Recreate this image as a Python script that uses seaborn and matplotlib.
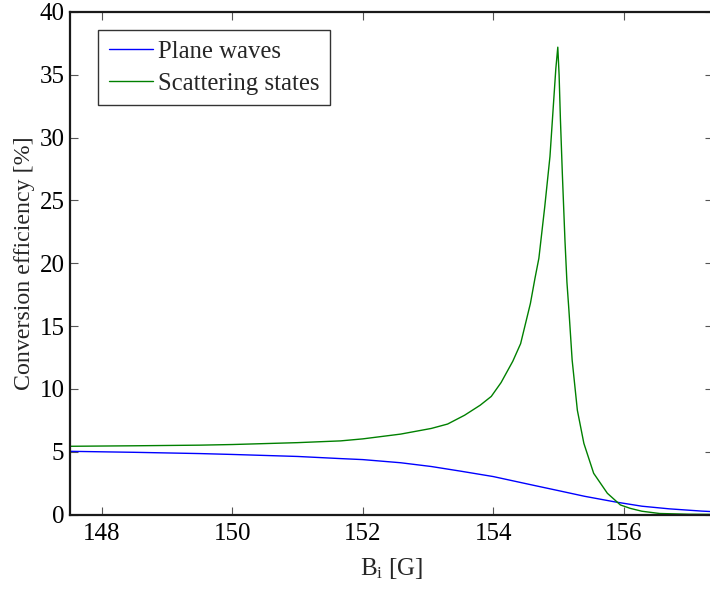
import numpy as np
import pandas as pd
import seaborn as sns
import matplotlib.pyplot as plt

# --- values ---
b_plane = [147.5, 148.5, 149.5, 150.0, 151.0, 151.66, 152.0, 152.58, 153.05, 153.5,
           154.0, 154.64, 155.0, 155.4, 155.87, 156.28, 156.7, 157.2, 157.4]
eff_plane = [5.03, 4.95, 4.85, 4.78, 4.62, 4.45, 4.37, 4.12, 3.82, 3.45,
             3.02, 2.3, 1.9, 1.45, 1.0, 0.66, 0.45, 0.27, 0.22]

b_scatt = [147.5, 148.5, 149.5, 150.0, 151.0, 151.66, 152.0, 152.58, 153.05, 153.3,
           153.56, 153.8, 153.97, 154.12, 154.3, 154.42, 154.57, 154.64, 154.70, 154.79,
           154.87, 154.92, 154.96, 154.99, 155.01, 155.03, 155.06, 155.10, 155.13, 155.16,
           155.21, 155.29, 155.39, 155.54, 155.75, 155.95, 156.10, 156.28, 156.55, 157.0, 157.4]
eff_scatt = [5.43, 5.47, 5.52, 5.57, 5.72, 5.86, 6.02, 6.4, 6.85, 7.2,
             7.9, 8.7, 9.4, 10.5, 12.2, 13.6, 16.8, 18.8, 20.4, 24.5,
             28.5, 32.4, 35.5, 37.2, 35.0, 31.5, 27.1, 21.8, 18.5, 16.3,
             12.3, 8.3, 5.66, 3.28, 1.69, 0.76, 0.49, 0.26, 0.08, 0.02, 0.01]

xticks = [148, 150, 152, 154, 156]
yticks = [0, 5, 10, 15, 20, 25, 30, 35, 40]

sns.set_style("ticks")
plt.rcParams['font.family'] = ['Liberation Serif', 'DejaVu Serif']
plt.rcParams['mathtext.fontset'] = 'custom'
plt.rcParams['mathtext.rm'] = 'Liberation Serif'
plt.rcParams['mathtext.it'] = 'Liberation Serif'

fig = plt.figure(figsize=(7.1, 5.92), dpi=100)
# right edge of the axes runs just past the picture, as in the reference
ax = fig.add_axes([70 / 710, 77.5 / 592, 643 / 710, 502.5 / 592])

df_plane = pd.DataFrame({'B': b_plane, 'eff': eff_plane})
df_scatt = pd.DataFrame({'B': b_scatt, 'eff': eff_scatt})
sns.lineplot(data=df_plane, x='B', y='eff', color='#0000ff', lw=1.0, label='Plane waves', ax=ax)
sns.lineplot(data=df_scatt, x='B', y='eff', color='#008000', lw=1.0, label='Scattering states', ax=ax)

ax.set_xlim(147.51, 157.37)
ax.set_ylim(0, 40)
ax.set_xticks(xticks)
ax.set_yticks(yticks)
ax.tick_params(direction='in', top=True, right=True, labelsize=18, length=6, width=0.8,
               color='#555555', labelcolor='black', pad=6)
ax.tick_params(axis='y', pad=4)
for s in ax.spines.values():
    s.set_linewidth(1.6)
    s.set_color('#1a1a1a')

ax.set_xlabel(r'B$_\mathrm{i}$ [G]', fontsize=18, labelpad=8)
ax.set_ylabel('Conversion efficiency [%]', fontsize=17.2)
ax.yaxis.set_label_coords(-0.054, 0.5)

leg = ax.legend(loc='upper left', bbox_to_anchor=(0.044, 0.964), fontsize=17.8, frameon=True,
                fancybox=False, handlelength=1.8, borderpad=0.42, labelspacing=0.4,
                handletextpad=0.2, borderaxespad=0)
leg.get_frame().set_edgecolor('black')
leg.get_frame().set_linewidth(1.0)

plt.savefig('out.png', dpi=100)
